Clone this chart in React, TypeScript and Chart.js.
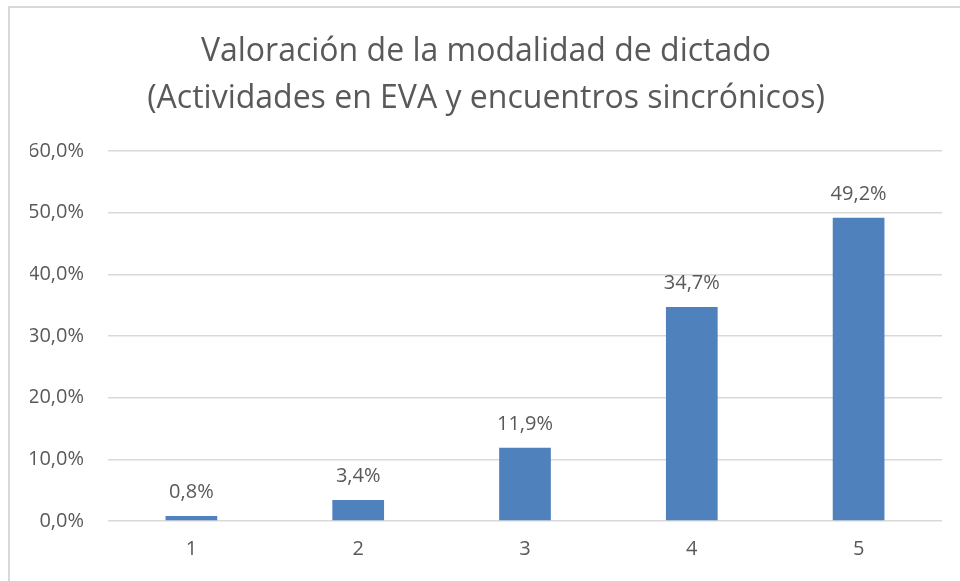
import React, { useEffect, useRef } from "react";
import { Chart, registerables } from "chart.js";

Chart.register(...registerables);

const categories = ["1", "2", "3", "4", "5"];
const values = [0.8, 3.4, 11.9, 34.7, 49.2];
const titleLines = ["Valoración de la modalidad de dictado", "(Actividades en EVA y encuentros sincrónicos)"];
const yMin = 0;
const yMax = 60;
const yStep = 10;

const fmt = (v: number) => v.toFixed(1).replace(".", ",") + "%";
const FONT = "'Open Sans', sans-serif";
const TEXT = "#595959";

const dataLabels = {
  id: "dataLabels",
  afterDatasetsDraw(chart: any) {
    const ctx = chart.ctx;
    const meta = chart.getDatasetMeta(0);
    ctx.save();
    ctx.fillStyle = TEXT;
    ctx.font = `20px ${FONT}`;
    ctx.textAlign = "center";
    ctx.textBaseline = "alphabetic";
    meta.data.forEach((el: any, i: number) => {
      ctx.fillText(fmt(values[i]), el.x, el.y - 18);
    });
    ctx.restore();
  },
};

export default function App() {
  const ref = useRef<HTMLCanvasElement>(null);
  useEffect(() => {
    if (!ref.current) return;
    const chart = new Chart(ref.current, {
      type: "bar",
      data: {
        labels: categories,
        datasets: [
          {
            data: values,
            backgroundColor: "#4F81BD",
            borderWidth: 0,
            categoryPercentage: 1,
            barPercentage: 0.31,
          },
        ],
      },
      options: {
        responsive: false,
        animation: false,
        layout: { padding: { left: 30, right: 18, top: 0, bottom: 0 } },
        plugins: {
          legend: { display: false },
          tooltip: { enabled: false },
          title: {
            display: true,
            text: titleLines,
            color: TEXT,
            font: { family: FONT, size: 32, weight: "normal", lineHeight: 1.47 },
            padding: { top: 28, bottom: 29 },
          },
        },
        scales: {
          x: {
            grid: { display: false, drawTicks: false },
            border: { display: false },
            ticks: { color: TEXT, font: { family: FONT, size: 20 }, padding: 16 },
            afterFit: (s: any) => {
              s.height = 60;
            },
          },
          y: {
            min: yMin,
            max: yMax,
            grid: { color: "#d9d9d9", lineWidth: 1.5, drawTicks: false },
            border: { display: false },
            ticks: {
              stepSize: yStep,
              color: TEXT,
              font: { family: FONT, size: 20 },
              padding: 24,
              callback: (v: any) => fmt(Number(v)),
            },
            afterFit: (s: any) => {
              s.width = 78;
            },
          },
        },
      },
      plugins: [dataLabels],
    });
    return () => chart.destroy();
  }, []);
  return (
    <div style={{ position: "absolute", left: 0, top: 0, width: 960, height: 581, overflow: "hidden", background: "#fff" }}>
      <canvas ref={ref} width={960} height={581} style={{ position: "absolute", left: 0, top: 0 }} />
      <div
        style={{
          position: "absolute",
          left: 8,
          top: 6,
          width: 1000,
          height: 1000,
          borderLeft: "2px solid #d9d9d9",
          borderTop: "2px solid #d9d9d9",
          pointerEvents: "none",
        }}
      />
    </div>
  );
}
